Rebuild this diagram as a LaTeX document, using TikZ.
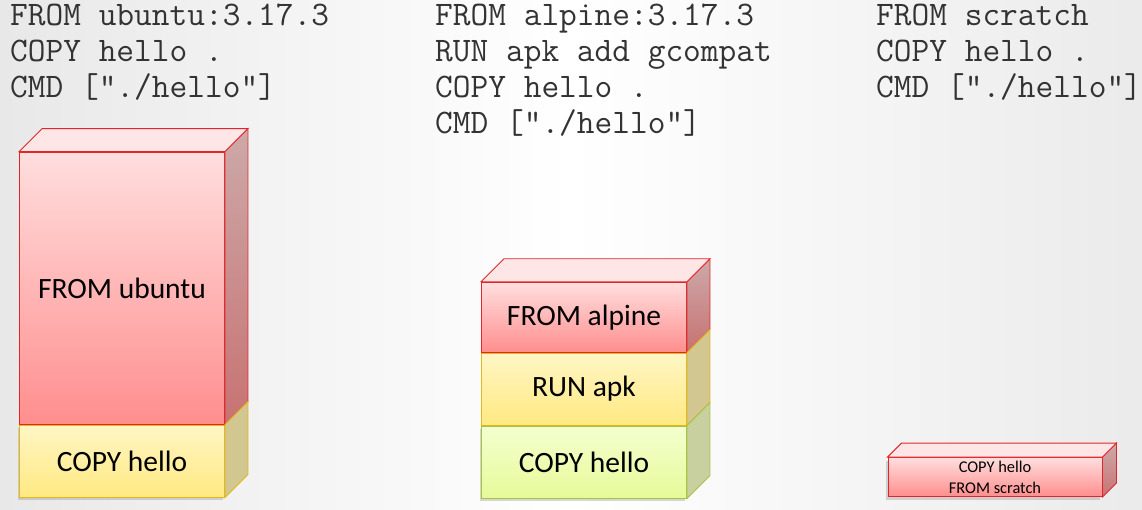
\documentclass[tikz,border=0pt]{standalone}
\usepackage{fontspec}
\setmainfont{Carlito}
\newfontfamily\codefont{Latin Modern Mono}
\usetikzlibrary{positioning, shadows}

\definecolor{redline}{HTML}{E0262A}
\definecolor{redtop}{HTML}{FFDEDE}
\definecolor{redbot}{HTML}{FF8E8E}
\definecolor{redsidetop}{HTML}{CDA9A9}
\definecolor{redsidebot}{HTML}{C87272}
\definecolor{redcap}{HTML}{FFE6E6}
\definecolor{yelline}{HTML}{E2B81A}
\definecolor{yeltop}{HTML}{FFF6C4}
\definecolor{yelbot}{HTML}{FFE982}
\definecolor{yelside}{HTML}{D2C790}
\definecolor{grnline}{HTML}{A8C43C}
\definecolor{grntop}{HTML}{F4FFD0}
\definecolor{grnbot}{HTML}{E6FA98}
\definecolor{grnside}{HTML}{C8D0A0}
\definecolor{codegray}{HTML}{333333}

\begin{document}
\begin{tikzpicture}[x=1pt, y=1pt,
    layer/.style = {draw, line width=0.9pt, inner sep=0pt, minimum width=205pt,
                    font=\fontsize{29.5}{34}\selectfont},
    redlayer/.style = {layer, draw=redline, top color=redtop, bottom color=redbot},
    yellayer/.style = {layer, draw=yelline, top color=yeltop, bottom color=yelbot},
    grnlayer/.style = {layer, draw=grnline, top color=grntop, bottom color=grnbot},
    shadowed/.style = {drop shadow={opacity=0.3, shadow xshift=-2pt, shadow yshift=-3pt}},
    code/.style = {anchor=north west, align=left, inner sep=0pt, text=codegray,
                   font=\codefont\fontsize{34.4}{36}\selectfont}]

    % background
    \shade[left color=black!9, right color=black!8, middle color=white] (0,0) rectangle (1142,509);
    \useasboundingbox (0,0) rectangle (1142,509);

    % dockerfiles
    \node[code] (ubuntufile) at (10,505) {FROM ubuntu:3.17.3\\COPY hello .\\CMD ["./hello"]};
    \node[code] (alpinefile) at (435,505) {FROM alpine:3.17.3\\RUN apk add gcompat\\COPY hello .\\CMD ["./hello"]};
    \node[code] (scratchfile) at (876,505) {FROM scratch\\COPY hello .\\CMD ["./hello"]};

    % ubuntu image
    \node[yellayer, shadowed, minimum height=72pt] (ucopy) at (122,48) {COPY hello};
    \node[redlayer, minimum height=272pt, above=0pt of ucopy] (ubuntu) {FROM ubuntu};

    % alpine image
    \node[grnlayer, shadowed, minimum height=72pt] (acopy) at (584,47) {COPY hello};
    \node[yellayer, minimum height=72pt, above=0pt of acopy] (arun) {RUN apk};
    \node[redlayer, minimum height=70pt, above=0pt of arun] (alpine) {FROM alpine};

    % scratch image
    \node[redlayer, shadowed, minimum width=214pt, minimum height=39pt, align=center,
          font=\fontsize{16.4}{21}\selectfont] (scratch) at (995,32) {COPY hello\\FROM scratch};

    % side faces
    \foreach \n/\d in {ubuntu/23, alpine/23, scratch/14} {
        \draw[redline, line width=0.9pt, top color=redsidetop, bottom color=redsidebot]
            (\n.north east) -- ++(\d,\d) -- ([shift={(\d,\d)}]\n.south east) -- (\n.south east) -- cycle;
        \draw[redline, line width=0.9pt, fill=redcap]
            (\n.north west) -- ++(\d,\d) -- ([shift={(\d,\d)}]\n.north east) -- (\n.north east) -- cycle;
    }
    \foreach \n in {ucopy, arun}
        \draw[yelline, line width=0.9pt, fill=yelside]
            (\n.north east) -- ++(23,23) -- ([shift={(23,23)}]\n.south east) -- (\n.south east) -- cycle;
    \draw[grnline, line width=0.9pt, fill=grnside]
        (acopy.north east) -- ++(23,23) -- ([shift={(23,23)}]acopy.south east) -- (acopy.south east) -- cycle;
\end{tikzpicture}
\end{document}
